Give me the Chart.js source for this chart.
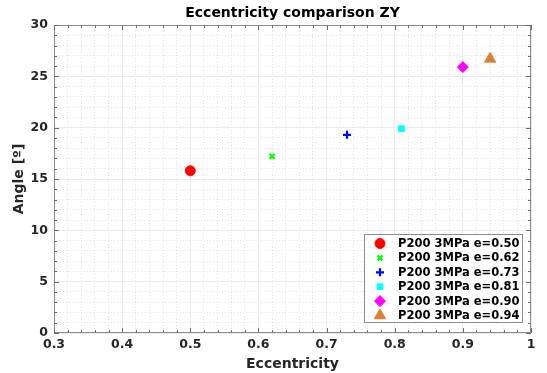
<!DOCTYPE html>
<html><head><meta charset="utf-8">
<script src="https://cdn.jsdelivr.net/npm/chart.js@4/dist/chart.umd.min.js"></script>
<style>html,body{margin:0;padding:0;background:#fff}#wrap{width:547px;height:373px}</style>
</head><body><div id="wrap"><canvas id="c" width="547" height="373"></canvas></div>
<script>
const titleText = "Eccentricity comparison ZY";
const labels = ["P200 3MPa e=0.50","P200 3MPa e=0.62","P200 3MPa e=0.73","P200 3MPa e=0.81","P200 3MPa e=0.90","P200 3MPa e=0.94"];
const eccentricity = [0.50, 0.62, 0.73, 0.81, 0.90, 0.94];
const angle = [15.8, 17.2, 19.3, 19.9, 25.9, 26.7];
const colors = ["#ff0000","#00ff00","#0000ff","#00ffff","#ff00ff","#d98033"];
const styles = ["circle","crossRot","cross","rect","rectRot","triangle"];
const radii = [5,3.5,4,4,5.5,6.5];
const xTicks = [0.3,0.4,0.5,0.6,0.7,0.8,0.9,1];

Chart.defaults.font.family = "'DejaVu Sans', sans-serif";

const datasets = labels.map((l,i)=>({
  label:l,
  data:[{x:eccentricity[i], y:angle[i]}],
  pointStyle:styles[i],
  pointRadius:radii[i],
  pointHoverRadius:radii[i],
  backgroundColor:colors[i],
  borderColor:colors[i],
  borderWidth:(styles[i]==="cross"||styles[i]==="crossRot")?2.2:1,
  xAxisID:'x', yAxisID:'y'
}));

const boxPlugin = {
  id:'box',
  afterDatasetsDraw(chart){
    const {ctx, chartArea:a} = chart;
    ctx.save();
    ctx.strokeStyle = '#8c8c8c'; ctx.lineWidth = 1;
    ctx.strokeRect(a.left+0.5, a.top+0.5, a.right-a.left-1, a.bottom-a.top-1);
    ctx.strokeStyle = '#6e6e6e';
    const xs = chart.scales.x, ys = chart.scales.y;
    ctx.beginPath();
    for (let k=0; k<=35; k++){
      const v = 0.3 + k*0.02;
      const px = Math.round(xs.getPixelForValue(v))+0.5;
      const len = (k%5===0)?5:3;
      ctx.moveTo(px,a.bottom); ctx.lineTo(px,a.bottom-len);
      ctx.moveTo(px,a.top); ctx.lineTo(px,a.top+len);
    }
    for (let v=0; v<=30; v+=1){
      const py = Math.round(ys.getPixelForValue(v))+0.5;
      const len = v%5===0?5:3;
      ctx.moveTo(a.left,py); ctx.lineTo(a.left+len,py);
      ctx.moveTo(a.right,py); ctx.lineTo(a.right-len,py);
    }
    ctx.stroke();
    ctx.restore();
  },
  afterDraw(chart){
    const {ctx, chartArea:a} = chart;
    ctx.save();
    // title
    ctx.font = "bold 14px 'DejaVu Sans'";
    ctx.fillStyle = '#000'; ctx.textAlign='center'; ctx.textBaseline='middle';
    ctx.fillText(titleText,(a.left+a.right)/2,13);
    // legend
    const x0=364, y0=234, w=158, h=88;
    ctx.textAlign='left';
    ctx.fillStyle='#fff'; ctx.fillRect(x0,y0,w,h);
    ctx.strokeStyle='#8c8c8c'; ctx.lineWidth=1;
    ctx.strokeRect(x0+0.5,y0+0.5,w,h);
    ctx.font = "bold 11.5px 'DejaVu Sans'";
    chart.data.datasets.forEach((d,i)=>{
      const y = y0+9.5+i*14.4;
      ctx.fillStyle=d.backgroundColor; ctx.strokeStyle=d.borderColor; ctx.lineWidth=d.borderWidth;
      Chart.helpers.drawPoint(ctx,{pointStyle:d.pointStyle,radius:d.pointRadius,borderWidth:d.borderWidth,rotation:0},380,y);
      ctx.fillStyle='#000';
      ctx.fillText(d.label,398,y+0.5);
    });
    ctx.restore();
  }
};

new Chart(document.getElementById('c'),{
  type:'scatter',
  data:{datasets},
  options:{
    responsive:false, animation:false,
    layout:{padding:{left:0,right:16,top:25,bottom:0}},
    plugins:{ legend:{display:false}, tooltip:{enabled:false}, title:{display:false} },
    scales:{
      xm:{type:'linear',position:'bottom',min:0.3,max:1,
        ticks:{display:false,stepSize:0.02},
        grid:{color:'#e3e3e3',lineWidth:1,drawTicks:false},
        border:{display:false,dash:[1,2]},
        afterFit(s){s.height=0;}},
      ym:{type:'linear',position:'left',min:0,max:30,
        ticks:{display:false,stepSize:1},
        grid:{color:'#e3e3e3',lineWidth:1,drawTicks:false},
        border:{display:false,dash:[1,2]},
        afterFit(s){s.width=0;}},
      x:{type:'linear',position:'bottom',min:0.3,max:1,
        afterBuildTicks(s){s.ticks = xTicks.map(v=>({value:v}));},
        ticks:{color:'#262626',font:{size:12.5,weight:'bold'},padding:4,
          callback:v=>String(Math.round(v*10)/10)},
        grid:{color:'#ebebeb',drawTicks:false},
        border:{display:false},
        title:{display:true,text:'Eccentricity',color:'#262626',font:{size:14,weight:'bold'},padding:{top:0,bottom:0}},
        afterFit(s){s.height=40;}},
      y:{type:'linear',position:'left',min:0,max:30,
        ticks:{stepSize:5,color:'#262626',font:{size:12.5,weight:'bold'},padding:6},
        grid:{color:'#ebebeb',drawTicks:false},
        border:{display:false},
        title:{display:true,text:'Angle [º]',color:'#262626',font:{size:14,weight:'bold'},padding:{top:11,bottom:4}},
        afterFit(s){s.width=54;}}
    }
  },
  plugins:[boxPlugin]
});
</script></body></html>
